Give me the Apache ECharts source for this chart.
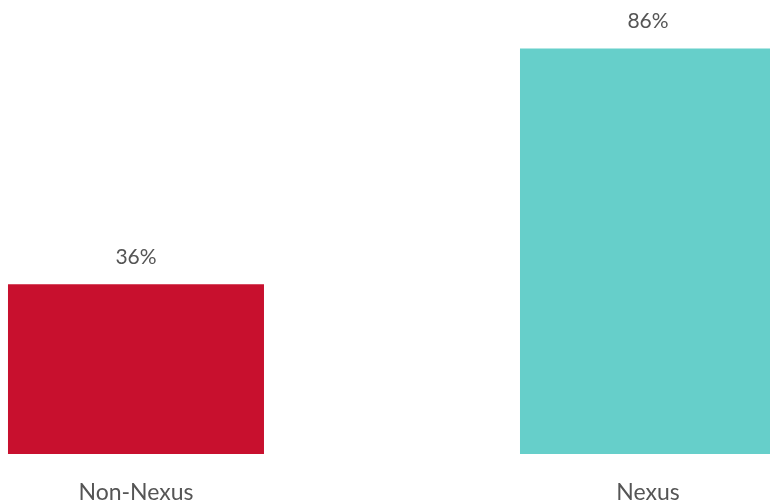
<!DOCTYPE html>
<html><head><meta charset="utf-8">
<script src="https://cdn.jsdelivr.net/npm/echarts@6/dist/echarts.min.js"></script>
<style>html,body{margin:0;padding:0;background:#fff}#c{width:770px;height:504px}</style>
</head><body><div id="c"></div>
<script>
const categories = ['Non-Nexus', 'Nexus'];
const values = [36, 86];
const colors = ['#C8102E', '#66CFCA'];

const chart = echarts.init(document.getElementById('c'));
chart.setOption({
  animation: false,
  backgroundColor: '#fff',
  grid: { left: 0, right: 0, top: 0, bottom: 46, containLabel: false },
  xAxis: {
    type: 'value', min: -0.2656, max: 1.2383,
    splitLine: { show: false },
    axisLine: { show: false }, axisTick: { show: false },
    axisLabel: {
      customValues: [0, 1],
      formatter: v => categories[Math.round(v)] || '',
      color: '#555', fontFamily: 'Lato', fontSize: 23, margin: 27
    }
  },
  yAxis: { type: 'value', min: 0, max: 96.3, show: false, splitLine: { show: false } },
  series: [{
    type: 'bar', barWidth: 256,
    data: values.map((v, i) => ({ value: [i, v], itemStyle: { color: colors[i] } })),
    label: { show: true, position: 'top', distance: 17, formatter: p => p.value[1] + '%', color: '#555', fontFamily: 'Lato', fontSize: 21 }
  }]
});
</script></body></html>
